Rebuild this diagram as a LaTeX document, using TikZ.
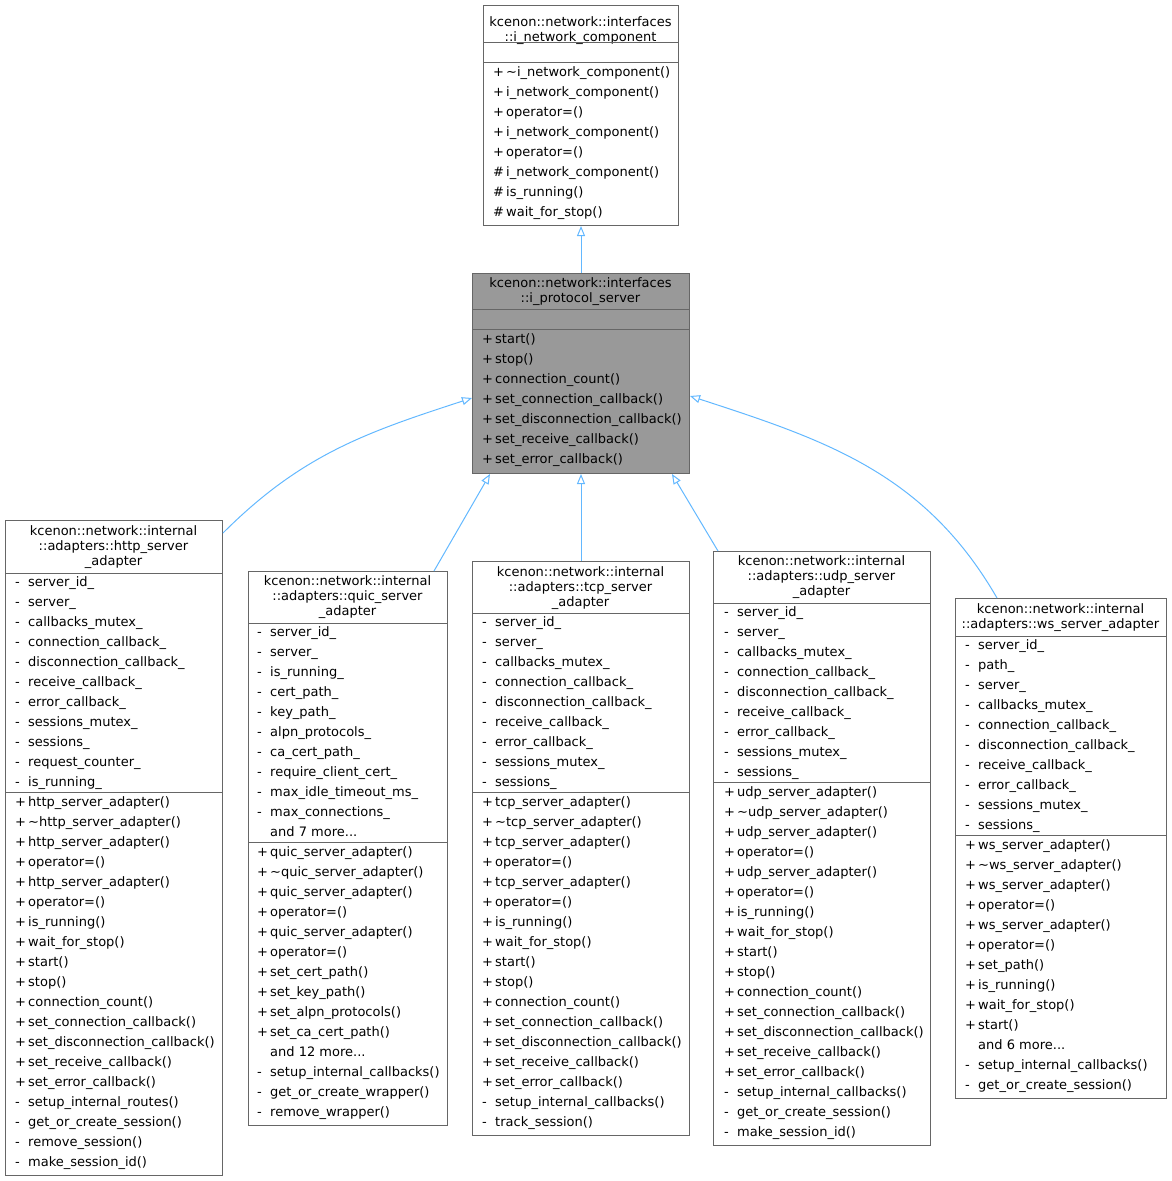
\documentclass[tikz,border=0pt]{standalone}
\usepackage{fontspec}
\setmainfont{DejaVu Sans}
\usetikzlibrary{arrows.meta}
\definecolor{edgeblue}{HTML}{63B8FF}
\definecolor{boxline}{HTML}{666666}
\tikzset{
  cls/.style={draw=boxline, line width=1pt, anchor=north west, inner sep=0pt},
  inherit/.style={draw=edgeblue, line width=1pt, -{Triangle[open, length=10pt, width=8pt, fill=white]}},
  title/.style={align=center, inner sep=0pt, font=\fontsize{13}{15}\selectfont},
  memb/.style={anchor=base west, inner sep=0pt, font=\fontsize{13}{15}\selectfont},
}
% member rows: x, first row y, list of symbol/name
\newcommand\members[3]{%
  \foreach \s/\t [count=\i from 0] in {#3} {
    \node[memb] at (#1+10, #2+4.5+20*\i) {\s};
    \node[memb] at (#1+23, #2+4.5+20*\i) {\t};
  }}
\begin{document}
\begin{tikzpicture}[x=1pt, y=-1pt]
  \useasboundingbox (0,0) rectangle (1171,1181);
  % Basis
  \node[cls, minimum width=195pt, minimum height=220pt] (component) at (483,5) {};
  \node[title] (componenttitle) at (580.5,31) {kcenon::network::interfaces\\::i\_network\_component};
  \draw[boxline, line width=1pt] (483,42) -- (678,42) (483,62) -- (678,62);
  \members{483}{72}{+/\textasciitilde i\_network\_component(), +/i\_network\_component(), +/operator=(), +/i\_network\_component(), +/operator=(), \#/i\_network\_component(), \#/is\_running(), \#/wait\_for\_stop()}
  % Schnittstelle
  \node[cls, fill=black!40, minimum width=217pt, minimum height=200pt] (server) at (472,273) {};
  \node[title] (servertitle) at (580.5,291.5) {kcenon::network::interfaces\\::i\_protocol\_server};
  \draw[boxline, line width=1pt] (472,309) -- (689,309) (472,329) -- (689,329);
  \members{472}{339}{+/start(), +/stop(), +/connection\_count(), +/set\_connection\_callback(), +/set\_disconnection\_callback(), +/set\_receive\_callback(), +/set\_error\_callback()}
  % HTTP
  \node[cls, minimum width=217pt, minimum height=655pt] (http) at (5,520) {};
  \node[title] (httptitle) at (113.5,547.5) {kcenon::network::internal\\::adapters::http\_server\\\_adapter};
  \draw[boxline, line width=1pt] (5,573) -- (222,573) (5,792) -- (222,792);
  \members{5}{582}{-/server\_id\_, -/server\_, -/callbacks\_mutex\_, -/connection\_callback\_, -/disconnection\_callback\_, -/receive\_callback\_, -/error\_callback\_, -/sessions\_mutex\_, -/sessions\_, -/request\_counter\_, -/is\_running\_}
  \members{5}{802}{+/http\_server\_adapter(), +/\textasciitilde http\_server\_adapter(), +/http\_server\_adapter(), +/operator=(), +/http\_server\_adapter(), +/operator=(), +/is\_running(), +/wait\_for\_stop(), +/start(), +/stop(), +/connection\_count(), +/set\_connection\_callback(), +/set\_disconnection\_callback(), +/set\_receive\_callback(), +/set\_error\_callback(), -/setup\_internal\_routes(), -/get\_or\_create\_session(), -/remove\_session(), -/make\_session\_id()}
  % QUIC
  \node[cls, minimum width=199pt, minimum height=554pt] (quic) at (248,571) {};
  \node[title] (quictitle) at (347.5,597) {kcenon::network::internal\\::adapters::quic\_server\\\_adapter};
  \draw[boxline, line width=1pt] (248,623) -- (447,623) (248,842) -- (447,842);
  \members{247}{632}{-/server\_id\_, -/server\_, -/is\_running\_, -/cert\_path\_, -/key\_path\_, -/alpn\_protocols\_, -/ca\_cert\_path\_, -/require\_client\_cert\_, -/max\_idle\_timeout\_ms\_, -/max\_connections\_, {}/and 7 more.{}.{}.}
  \members{247}{852}{+/quic\_server\_adapter(), +/\textasciitilde quic\_server\_adapter(), +/quic\_server\_adapter(), +/operator=(), +/quic\_server\_adapter(), +/operator=(), +/set\_cert\_path(), +/set\_key\_path(), +/set\_alpn\_protocols(), +/set\_ca\_cert\_path(), {}/and 12 more.{}.{}., -/setup\_internal\_callbacks(), -/get\_or\_create\_wrapper(), -/remove\_wrapper()}
  % TCP
  \node[cls, minimum width=217pt, minimum height=574pt] (tcp) at (472,561) {};
  \node[title] (tcptitle) at (580.5,588) {kcenon::network::internal\\::adapters::tcp\_server\\\_adapter};
  \draw[boxline, line width=1pt] (472,613) -- (689,613) (472,792) -- (689,792);
  \members{472}{622}{-/server\_id\_, -/server\_, -/callbacks\_mutex\_, -/connection\_callback\_, -/disconnection\_callback\_, -/receive\_callback\_, -/error\_callback\_, -/sessions\_mutex\_, -/sessions\_}
  \members{472}{802}{+/tcp\_server\_adapter(), +/\textasciitilde tcp\_server\_adapter(), +/tcp\_server\_adapter(), +/operator=(), +/tcp\_server\_adapter(), +/operator=(), +/is\_running(), +/wait\_for\_stop(), +/start(), +/stop(), +/connection\_count(), +/set\_connection\_callback(), +/set\_disconnection\_callback(), +/set\_receive\_callback(), +/set\_error\_callback(), -/setup\_internal\_callbacks(), -/track\_session()}
  % UDP
  \node[cls, minimum width=217pt, minimum height=594pt] (udp) at (713,551) {};
  \node[title] (udptitle) at (821.5,577) {kcenon::network::internal\\::adapters::udp\_server\\\_adapter};
  \draw[boxline, line width=1pt] (713,603) -- (930,603) (713,782) -- (930,782);
  \members{714}{612}{-/server\_id\_, -/server\_, -/callbacks\_mutex\_, -/connection\_callback\_, -/disconnection\_callback\_, -/receive\_callback\_, -/error\_callback\_, -/sessions\_mutex\_, -/sessions\_}
  \members{714}{792}{+/udp\_server\_adapter(), +/\textasciitilde udp\_server\_adapter(), +/udp\_server\_adapter(), +/operator=(), +/udp\_server\_adapter(), +/operator=(), +/is\_running(), +/wait\_for\_stop(), +/start(), +/stop(), +/connection\_count(), +/set\_connection\_callback(), +/set\_disconnection\_callback(), +/set\_receive\_callback(), +/set\_error\_callback(), -/setup\_internal\_callbacks(), -/get\_or\_create\_session(), -/make\_session\_id()}
  % WebSocket
  \node[cls, minimum width=211pt, minimum height=500pt] (ws) at (955,598) {};
  \node[title] (wstitle) at (1060.5,617.5) {kcenon::network::internal\\::adapters::ws\_server\_adapter};
  \draw[boxline, line width=1pt] (955,636) -- (1166,636) (955,835) -- (1166,835);
  \members{955}{645}{-/server\_id\_, -/path\_, -/server\_, -/callbacks\_mutex\_, -/connection\_callback\_, -/disconnection\_callback\_, -/receive\_callback\_, -/error\_callback\_, -/sessions\_mutex\_, -/sessions\_}
  \members{955}{845}{+/ws\_server\_adapter(), +/\textasciitilde ws\_server\_adapter(), +/ws\_server\_adapter(), +/operator=(), +/ws\_server\_adapter(), +/operator=(), +/set\_path(), +/is\_running(), +/wait\_for\_stop(), +/start(), {}/and 6 more.{}.{}., -/setup\_internal\_callbacks(), -/get\_or\_create\_session()}
  % Vererbung
  \draw[inherit] (server.north) -- (component.south);
  \draw[inherit] ([yshift=-13pt]http.north east) to[out=45, in=198] ([yshift=-125pt]server.north west);
  \draw[inherit] ([xshift=-14pt]quic.north east) -- ([xshift=18pt]server.south west);
  \draw[inherit] (tcp.north) -- (server.south);
  \draw[inherit] ([xshift=5pt]udp.north west) -- ([xshift=-18pt]server.south east);
  \draw[inherit] ([xshift=42pt]ws.north west) to[out=120, in=-18] ([yshift=-123pt]server.north east);
\end{tikzpicture}
\end{document}
